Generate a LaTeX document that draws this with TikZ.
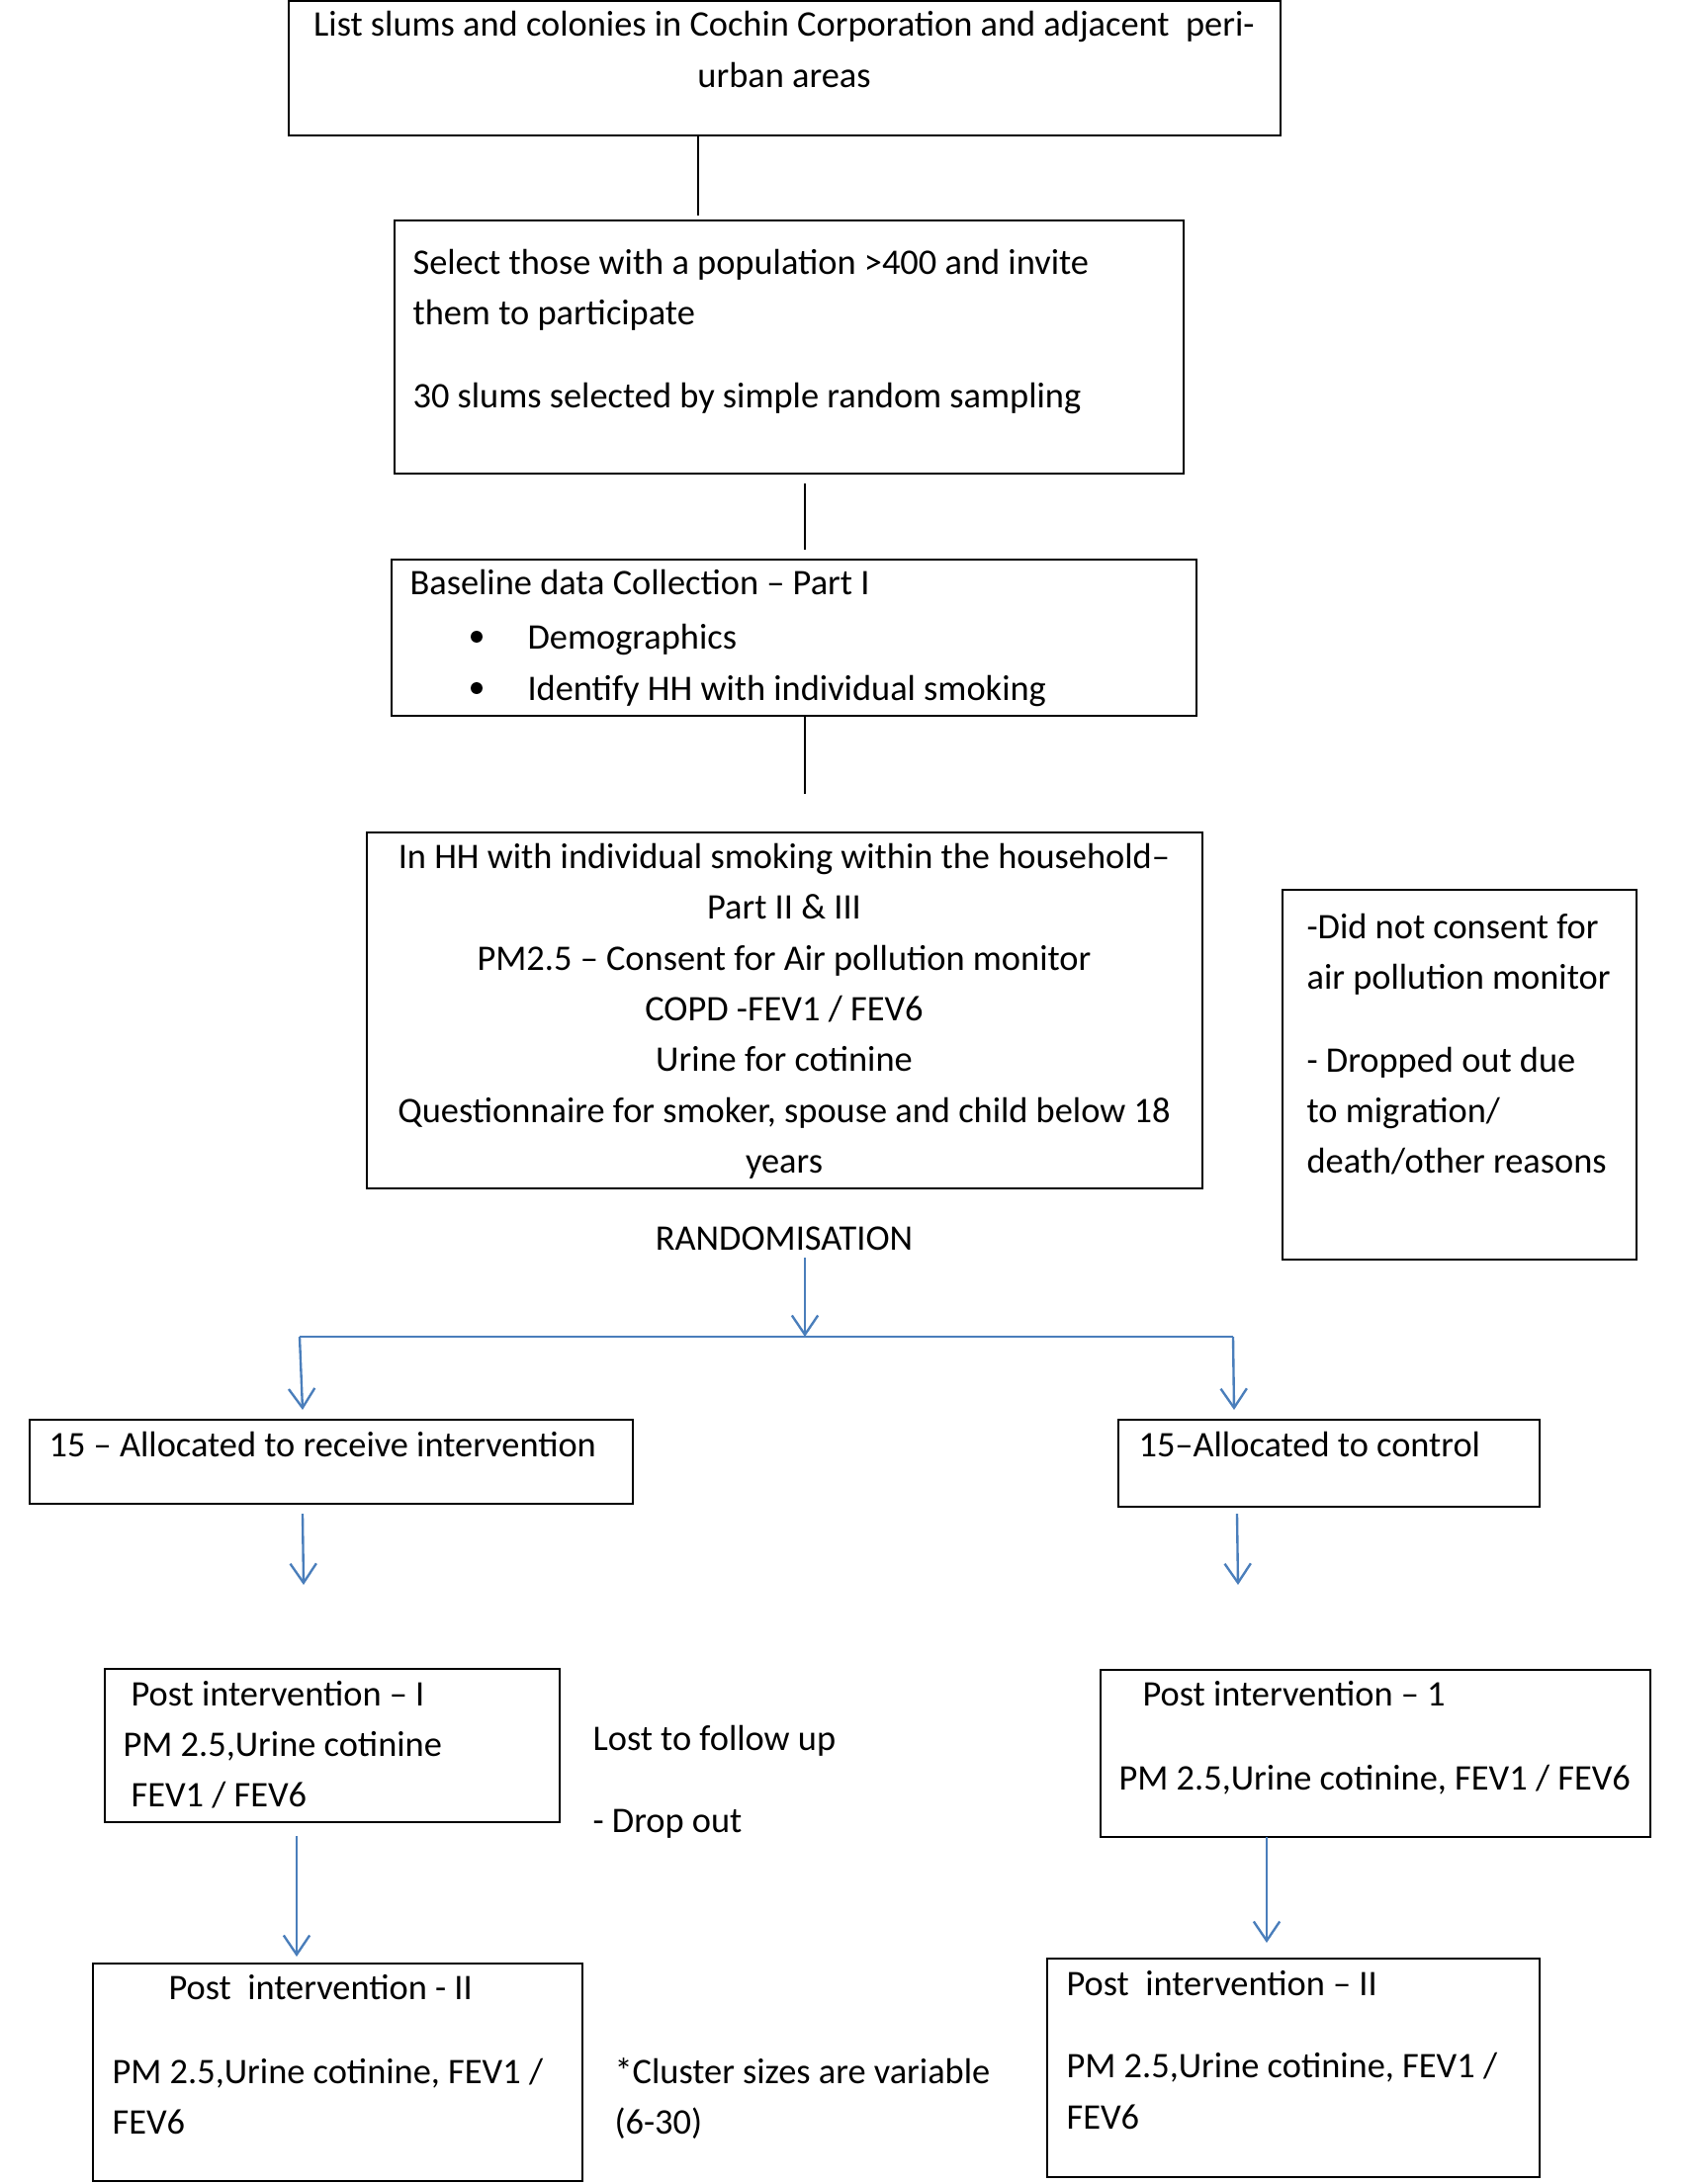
\documentclass[tikz,border=0pt]{standalone}
\usepackage{fontspec}
\setmainfont{Carlito}
\usetikzlibrary{fit,arrows.meta}
\definecolor{conblue}{HTML}{4A7EBB}
\tikzset{
  box/.style={draw=black, line width=0.8pt, inner sep=0pt, rectangle},
  txt/.style={anchor=base west, inner sep=0pt, font=\fontsize{13.1pt}{15pt}\selectfont},
  ctxt/.style={anchor=base, inner sep=0pt, font=\fontsize{13.1pt}{15pt}\selectfont},
  blk/.style={draw=black, line width=0.6pt},
  blu/.style={draw=conblue, line width=0.85pt},
  bluarr/.style={draw=conblue, line width=0.85pt, -{Straight Barb[length=7pt,width=9.5pt,line width=0.85pt]}},
  dot/.style={circle, fill=black, inner sep=0pt, minimum size=4.3pt}
}
\begin{document}
\begin{tikzpicture}[x=0.36pt,y=-0.36pt]
\useasboundingbox (0,0) rectangle (1701,2209);
% Box 1
\node[box, fit={(292,1) (1295,137)}] (b1) {};
\node[ctxt] (t1a) at (793,37) {List slums and colonies in Cochin Corporation and adjacent\ \ peri-};
\node[ctxt] (t1b) at (793,88) {urban areas};
% Box 2
\node[box, fit={(399,223) (1197,479)}] (b2) {};
\node[txt] (t2a) at (417,277) {Select those with a population >400 and invite};
\node[txt] (t2b) at (417,328) {them to participate};
\node[txt] (t2c) at (417,412) {30 slums selected by simple random sampling};
% Box 3
\node[box, fit={(396,566) (1210,724)}] (b3) {};
\node[txt] (t3a) at (414,601) {Baseline data Collection – Part I};
\node[dot] (d1) at (482,644) {};
\node[dot] (d2) at (482,696) {};
\node[txt] (t3b) at (533,656) {Demographics};
\node[txt] (t3c) at (533,708) {Identify HH with individual smoking};
% Box 4
\node[box, fit={(371,842) (1216,1202)}] (b4) {};
\node[ctxt] (t4a) at (793,878) {In HH with individual smoking within the household–};
\node[ctxt] (t4b) at (793,929) {Part II \& III};
\node[ctxt] (t4c) at (793,981) {PM2.5 – Consent for Air pollution monitor};
\node[ctxt] (t4d) at (793,1032) {COPD -FEV1 / FEV6};
\node[ctxt] (t4e) at (793,1083) {Urine for cotinine};
\node[ctxt] (t4f) at (793,1135) {Questionnaire for smoker, spouse and child below 18};
\node[ctxt] (t4g) at (793,1186) {years};
% Box 5
\node[box, fit={(1297,900) (1655,1274)}] (b5) {};
\node[txt] (t5a) at (1321,949) {-Did not consent for};
\node[txt] (t5b) at (1321,1000) {air pollution monitor};
\node[txt] (t5c) at (1321,1084) {- Dropped out due};
\node[txt] (t5d) at (1321,1135) {to migration/};
\node[txt] (t5e) at (1321,1186) {death/other reasons};
% Randomisation
\node[ctxt] (rand) at (793,1264) {RANDOMISATION};
% Box 6, 7
\node[box, fit={(30,1436) (640,1521)}] (b6) {};
\node[txt] (t6) at (49,1473) {15 – Allocated to receive intervention};
\node[box, fit={(1131,1436) (1557,1524)}] (b7) {};
\node[txt] (t7) at (1151,1473) {15–Allocated to control};
% Box 8
\node[box, fit={(106,1688) (566,1843)}] (b8) {};
\node[txt] (t8a) at (132,1725) {Post intervention – I};
\node[txt] (t8b) at (124,1776) {PM 2.5,Urine cotinine};
\node[txt] (t8c) at (132,1827) {FEV1 / FEV6};
\node[txt] (lost) at (599,1770) {Lost to follow up};
\node[txt] (drop) at (599,1853) {- Drop out};
% Box 9
\node[box, fit={(1113,1689) (1669,1858)}] (b9) {};
\node[txt] (t9a) at (1155,1725) {Post intervention – 1};
\node[txt] (t9b) at (1131,1810) {PM 2.5,Urine cotinine, FEV1 / FEV6};
% Box 10
\node[box, fit={(94,1986) (589,2206)}] (b10) {};
\node[txt] (t10a) at (170,2022) {Post\ \ intervention - II};
\node[txt] (t10b) at (113,2107) {PM 2.5,Urine cotinine, FEV1 /};
\node[txt] (t10c) at (113,2158) {FEV6};
\node[txt] (clus) at (621,2107) {*Cluster sizes are variable};
\node[txt] (clus2) at (621,2158) {(6-30)};
% Box 11
\node[box, fit={(1059,1981) (1557,2202)}] (b11) {};
\node[txt] (t11a) at (1078,2018) {Post\ \ intervention – II};
\node[txt] (t11b) at (1078,2101) {PM 2.5,Urine cotinine, FEV1 /};
\node[txt] (t11c) at (1078,2153) {FEV6};
% coordinates for connector ends
\coordinate (c1) at (706,218);
\coordinate (c2a) at (814,489);
\coordinate (c2b) at (814,556);
\coordinate (c3) at (814,803);
\coordinate (r1) at (814,1272);
\coordinate (r2) at (814,1352);
\coordinate (hl) at (303,1352);
\coordinate (hr) at (1247,1352);
\coordinate (al) at (306,1426);
\coordinate (ar) at (1248,1426);
\coordinate (l1s) at (306,1531);
\coordinate (l1e) at (307,1603);
\coordinate (r1s) at (1251,1531);
\coordinate (r1e) at (1252,1603);
\coordinate (l2s) at (300,1857);
\coordinate (l2e) at (300,1979);
\coordinate (r2s) at (1281,1858);
\coordinate (r2e) at (1281,1965);
% black connectors
\draw[blk] (b1.south -| c1) -- (c1);
\draw[blk] (c2a) -- (c2b);
\draw[blk] (b3.south -| c3) -- (c3);
% blue connectors
\draw[bluarr] (r1) -- (r2);
\draw[blu] (hl) -- (hr);
\draw[bluarr] (hl) -- (al);
\draw[bluarr] (hr) -- (ar);
\draw[bluarr] (l1s) -- (l1e);
\draw[bluarr] (r1s) -- (r1e);
\draw[bluarr] (l2s) -- (l2e);
\draw[bluarr] (r2s) -- (r2e);
\end{tikzpicture}
\end{document}
